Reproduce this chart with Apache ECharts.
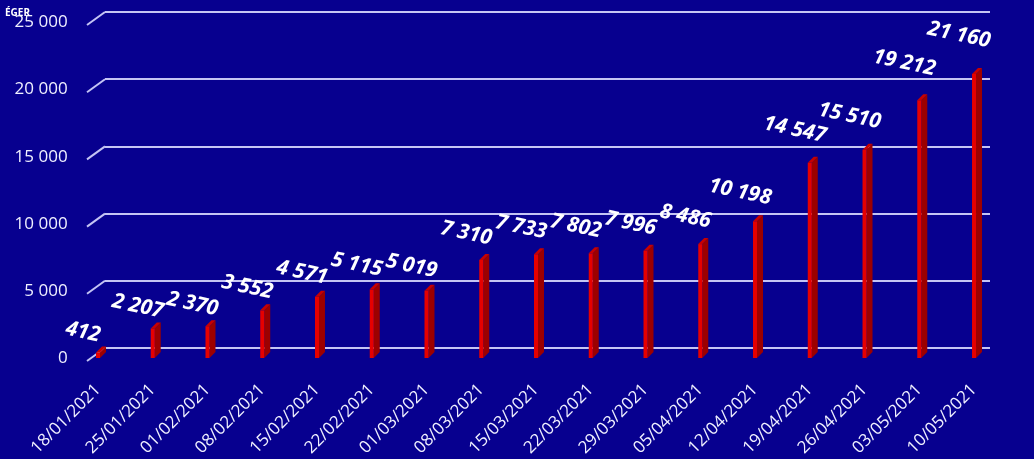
<!DOCTYPE html>
<html>
<head>
<meta charset="utf-8">
<script src="https://cdn.jsdelivr.net/npm/echarts@6/dist/echarts.min.js"></script>
<style>
html,body{margin:0;padding:0;background:#07008f;}
#c{width:1034px;height:459px;}
</style>
</head>
<body>
<div id="c"></div>
<script>
const categories = ['18/01/2021','25/01/2021','01/02/2021','08/02/2021','15/02/2021','22/02/2021','01/03/2021','08/03/2021','15/03/2021','22/03/2021','29/03/2021','05/04/2021','12/04/2021','19/04/2021','26/04/2021','03/05/2021','10/05/2021'];
const values = [412, 2207, 2370, 3552, 4571, 5115, 5019, 7310, 7733, 7802, 7996, 8486, 10198, 14547, 15510, 19212, 21160];
const yTicks = [0, 5000, 10000, 15000, 20000, 25000];
const titleText = 'ÉGER';

function fmt(v){ return String(v).replace(/\B(?=(\d{3})+(?!\d))/g, ' '); }

const chart = echarts.init(document.getElementById('c'));
const lineColor = '#c4c4f4';
chart.setOption({
  backgroundColor: '#07008f',
  animation: false,
  title: {text: titleText, left: 0, top: 3, textStyle: {color: '#ffffff', fontSize: 10, fontWeight: 'bold', fontFamily: 'Open Sans'}},
  grid: [
    {left: 105, right: 44, top: 12, bottom: 111},
    {left: 70.6, right: 32.6, top: 22.5, bottom: 101}
  ],
  xAxis: [
    {type: 'value', gridIndex: 0, min: 0, max: 1, show: false},
    {type: 'category', gridIndex: 1, data: categories,
     axisLine: {show: false}, axisTick: {show: false},
     axisLabel: {rotate: 45, interval: 0, color: '#f0f0ff', fontSize: 17, fontFamily: 'Open Sans', margin: 29}}
  ],
  yAxis: [
    {type: 'value', gridIndex: 0, min: 0, max: 25000, interval: 5000,
     axisLine: {show: false}, axisTick: {show: false}, axisLabel: {show: false},
     splitLine: {lineStyle: {color: lineColor, width: 2}}},
    {type: 'value', gridIndex: 1, min: 0, max: 25000, interval: 5000,
     axisLine: {show: false}, axisTick: {show: false}, splitLine: {show: false},
     axisLabel: {color: '#f0f0ff', fontSize: 17, fontFamily: 'Open Sans', margin: 3, formatter: fmt}}
  ],
  series: [
    {
      type: 'custom', xAxisIndex: 0, yAxisIndex: 0, z: 2, silent: true,
      data: yTicks.map(v => [0, v]),
      renderItem: function(params, api){
        const p = api.coord([0, api.value(1)]);
        return {type: 'line', shape: {x1: p[0] - 18, y1: p[1] + 13, x2: p[0], y2: p[1]},
                style: {stroke: lineColor, lineWidth: 2}};
      }
    },
    {
      type: 'custom', xAxisIndex: 1, yAxisIndex: 1, z: 5, silent: true,
      data: values.map((v, i) => [i, v]),
      renderItem: function(params, api){
        const i = api.value(0), v = api.value(1);
        const top = api.coord([i, v]);
        const base = api.coord([i, 0]);
        const x = top[0], yt = top[1], yb = base[1];
        const w = 2, d = 6;
        const lift = 20 + v * 0.0009;
        return {type: 'group', children: [
          {type: 'polygon', shape: {points: [[x + w, yt], [x + w + d, yt - d], [x + w + d, yb - d], [x + w, yb]]},
           style: {fill: '#9c0000'}},
          {type: 'rect', shape: {x: x - w, y: yt, width: 2 * w, height: yb - yt},
           style: {fill: '#e60000'}},
          {type: 'polygon', shape: {points: [[x - w, yt], [x + w, yt], [x + w + d, yt - d], [x - w + d, yt - d]]},
           style: {fill: '#c80000'}},
          {type: 'text', x: x - 15, y: yt - lift, rotation: -0.21,
           style: {text: fmt(v), fill: '#ffffff', font: 'italic bold 21px "Open Sans", "Liberation Sans", sans-serif',
                   align: 'center', verticalAlign: 'middle'}}
        ]};
      }
    }
  ]
});
</script>
</body>
</html>
